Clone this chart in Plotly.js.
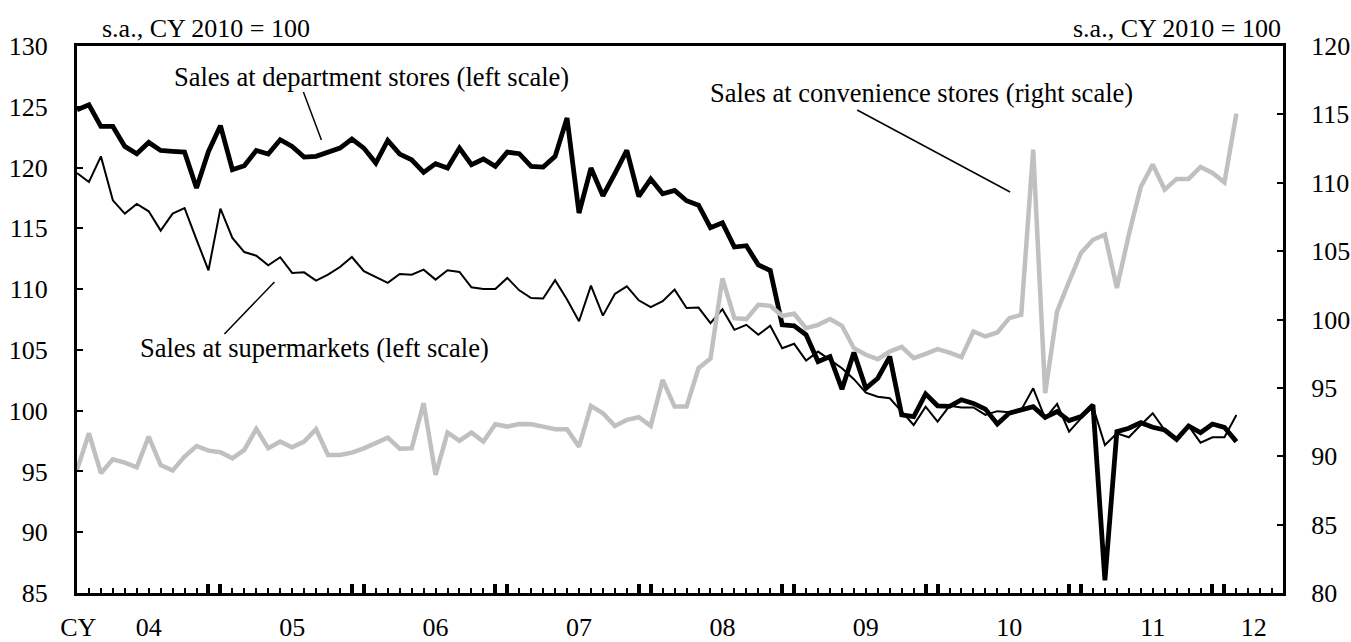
<!DOCTYPE html>
<html>
<head>
<meta charset="utf-8">
<script src="https://cdn.plot.ly/plotly-3.0.1.min.js"></script>
<style>
  html, body { margin: 0; padding: 0; background: #ffffff; }
  #chart { width: 1351px; height: 642px; }
</style>
</head>
<body>
<div id="chart"></div>
<script>
// Monthly data, Jan 2004 – Feb 2012 (s.a., CY 2010 = 100)
const firstYear = 2004;
const yearLabels = ['04', '05', '06', '07', '08', '09', '10', '11', '12'];
const axisPrefix = 'CY';

// Sales at department stores (left scale)
const deptStores = [
  124.75, 125.16, 123.38, 123.38, 121.74, 121.14, 122.07, 121.41, 121.33, 121.27, 118.32, 121.33,
  123.44, 119.82, 120.15, 121.41, 121.11, 122.29, 121.74, 120.86, 120.92, 121.27, 121.60, 122.34,
  121.60, 120.37, 122.23, 121.11, 120.64, 119.60, 120.32, 119.96, 121.60, 120.23, 120.70, 120.10,
  121.27, 121.14, 120.10, 120.04, 120.92, 124.07, 116.26, 119.96, 117.68, 119.50, 121.41, 117.63,
  119.05, 117.85, 118.12, 117.27, 116.90, 115.05, 115.45, 113.46, 113.57, 112.00, 111.53, 107.06,
  106.98, 106.24, 104.04, 104.45, 101.76, 104.78, 101.84, 102.67, 104.45, 99.65, 99.50, 101.38,
  100.40, 100.36, 100.90, 100.60, 100.13, 98.90, 99.80, 100.06, 100.33, 99.45, 99.92, 99.18,
  99.51, 100.47, 86.05, 98.27, 98.55, 99.01, 98.63, 98.41, 97.64, 98.74, 98.19, 98.90,
  98.63, 97.45
];

// Sales at supermarkets (left scale)
const supermarkets = [
  119.55, 118.81, 120.92, 117.30, 116.21, 117.00, 116.40, 114.81, 116.21, 116.67, 114.07, 111.55,
  116.62, 114.21, 113.05, 112.75, 111.96, 112.62, 111.33, 111.38, 110.70, 111.19, 111.82, 112.64,
  111.47, 111.00, 110.51, 111.25, 111.19, 111.60, 110.78, 111.55, 111.41, 110.15, 110.01, 110.01,
  110.92, 109.90, 109.27, 109.22, 110.73, 109.14, 107.36, 110.29, 107.82, 109.60, 110.23, 109.08,
  108.51, 109.00, 109.96, 108.45, 108.48, 107.20, 108.35, 106.65, 107.06, 106.24, 106.98, 105.14,
  105.50, 104.12, 104.86, 104.18, 103.49, 102.59, 101.48, 101.15, 101.02, 99.92, 98.82, 100.33,
  99.10, 100.40, 100.27, 100.27, 99.65, 99.96, 99.88, 100.06, 101.84, 99.37, 100.55, 98.27,
  99.37, 100.33, 97.17, 98.14, 97.81, 98.82, 99.79, 98.41, 97.59, 98.74, 97.37, 97.81,
  97.81, 99.65
];

// Sales at convenience stores (right scale)
const convenience = [
  89.00, 91.68, 88.76, 89.78, 89.53, 89.19, 91.44, 89.36, 88.95, 89.97, 90.75, 90.41,
  90.29, 89.85, 90.46, 92.00, 90.58, 91.07, 90.66, 91.07, 91.98, 90.10, 90.10, 90.26,
  90.58, 91.00, 91.36, 90.55, 90.58, 93.88, 88.63, 91.73, 91.14, 91.73, 91.07, 92.34,
  92.17, 92.36, 92.34, 92.17, 91.97, 91.97, 90.70, 93.68, 93.14, 92.22, 92.66, 92.85,
  92.22, 95.59, 93.63, 93.63, 96.44, 97.15, 103.00, 100.10, 100.03, 101.08, 101.00, 100.27,
  100.42, 99.37, 99.61, 100.03, 99.54, 97.90, 97.42, 97.10, 97.66, 98.00, 97.17, 97.49,
  97.83, 97.58, 97.25, 99.12, 98.76, 99.05, 100.10, 100.34, 112.42, 94.61, 100.59, 102.78,
  104.86, 105.83, 106.20, 102.30, 106.20, 109.69, 111.33, 109.50, 110.28, 110.28, 111.16, 110.72,
  110.03, 115.06
];

// month index (0 = Jan 2004)
const monthIdx = deptStores.map((_, i) => i);
const xMax = 100.9;

// year label positions: centre of each visible year span
const tickVals = [0.1];
const tickText = [axisPrefix];
yearLabels.forEach((lab, k) => {
  const start = 12 * k;
  const end = Math.min(start + 12, xMax);
  tickVals.push((start + end) / 2);
  tickText.push(lab);
});
// emphasised ticks at each Dec/Jan boundary
const yearTicks = [];
for (let k = 1; 12 * k <= xMax; k++) { yearTicks.push(12 * k - 1, 12 * k); }

const FONT = 'Liberation Serif, Times New Roman, serif';

const traces = [
  { x: monthIdx, y: convenience, type: 'scatter', mode: 'lines', yaxis: 'y2',
    line: { color: '#c0c0c0', width: 4.5 }, hoverinfo: 'skip', showlegend: false },
  { x: monthIdx, y: supermarkets, type: 'scatter', mode: 'lines',
    line: { color: '#000000', width: 2 }, hoverinfo: 'skip', showlegend: false },
  { x: monthIdx, y: deptStores, type: 'scatter', mode: 'lines',
    line: { color: '#000000', width: 4.8 }, hoverinfo: 'skip', showlegend: false },
  { x: [null], y: [null], xaxis: 'x2', yaxis: 'y', type: 'scatter', mode: 'lines',
    hoverinfo: 'skip', showlegend: false },
  { x: [null], y: [null], xaxis: 'x3', yaxis: 'y', type: 'scatter', mode: 'lines',
    hoverinfo: 'skip', showlegend: false }
];

const L = 76.5, R = 1283, T = 46, B = 593;
const W = R - L, H = B - T;
const px = v => (v - L) / W;
const py = v => (B - v) / H;

const annFont = { family: FONT, size: 26.5, color: '#000000' };
const layout = {
  width: 1351, height: 642,
  margin: { l: L, r: 1351 - R, t: T, b: 642 - B, pad: 0 },
  paper_bgcolor: '#ffffff', plot_bgcolor: '#ffffff',
  font: { family: FONT, size: 26, color: '#000000' },
  showlegend: false,
  xaxis: {
    range: [0, xMax], tickmode: 'array', tickvals: tickVals, ticktext: tickText,
    ticks: '', showgrid: false, zeroline: false,
    showline: true, linecolor: '#000000', linewidth: 3, mirror: true,
    tickfont: { family: FONT, size: 26, color: '#000000' },
    ticklabelstandoff: 9
  },
  xaxis2: {
    overlaying: 'x', anchor: 'y', side: 'bottom', range: [0, xMax],
    tickmode: 'linear', tick0: 0, dtick: 1, ticks: 'inside', ticklen: 5, tickwidth: 2,
    tickcolor: '#000000', showticklabels: false, showgrid: false, zeroline: false, showline: false
  },
  xaxis3: {
    overlaying: 'x', anchor: 'y', side: 'bottom', range: [0, xMax],
    tickmode: 'array', tickvals: yearTicks, ticks: 'inside', ticklen: 9, tickwidth: 4,
    tickcolor: '#000000', showticklabels: false, showgrid: false, zeroline: false, showline: false
  },
  yaxis: {
    range: [85, 130], tickmode: 'linear', tick0: 85, dtick: 5,
    ticks: 'inside', ticklen: 6, tickwidth: 2, tickcolor: '#000000',
    showgrid: false, zeroline: false,
    showline: true, linecolor: '#000000', linewidth: 3,
    tickfont: { family: FONT, size: 26, color: '#000000' },
    ticklabelstandoff: 21
  },
  yaxis2: {
    overlaying: 'y', side: 'right', range: [80, 120], tickmode: 'linear', tick0: 80, dtick: 5,
    ticks: 'inside', ticklen: 6, tickwidth: 2, tickcolor: '#000000',
    showgrid: false, zeroline: false,
    showline: true, linecolor: '#000000', linewidth: 3,
    tickfont: { family: FONT, size: 26, color: '#000000' },
    ticklabelstandoff: 20
  },
  annotations: [
    { xref: 'paper', yref: 'paper', x: px(100), y: py(29), xanchor: 'left', yanchor: 'middle',
      text: 's.a., CY 2010 = 100', showarrow: false, font: { family: FONT, size: 26, color: '#000' } },
    { xref: 'paper', yref: 'paper', x: px(R), y: py(29), xanchor: 'right', yanchor: 'middle',
      text: 's.a., CY 2010 = 100', showarrow: false, font: { family: FONT, size: 26, color: '#000' } },
    { xref: 'paper', yref: 'paper', x: px(371.5), y: py(77), xanchor: 'center', yanchor: 'middle',
      text: 'Sales at department stores (left scale)', showarrow: false, font: annFont },
    { xref: 'paper', yref: 'paper', x: px(314.5), y: py(348), xanchor: 'center', yanchor: 'middle',
      text: 'Sales at supermarkets (left scale)', showarrow: false, font: annFont },
    { xref: 'paper', yref: 'paper', x: px(921), y: py(93), xanchor: 'center', yanchor: 'middle',
      text: 'Sales at convenience stores (right scale)', showarrow: false, font: annFont }
  ],
  shapes: [
    { type: 'line', xref: 'paper', yref: 'paper', x0: px(303), y0: py(92), x1: px(321), y1: py(140),
      line: { color: '#000000', width: 1.5 } },
    { type: 'line', xref: 'paper', yref: 'paper', x0: px(224), y0: py(334), x1: px(274), y1: py(282),
      line: { color: '#000000', width: 1.5 } },
    { type: 'line', xref: 'paper', yref: 'paper', x0: px(857), y0: py(110), x1: px(1010), y1: py(192),
      line: { color: '#000000', width: 1.5 } }
  ]
};

Plotly.newPlot('chart', traces, layout, { staticPlot: true, displayModeBar: false });
</script>
</body>
</html>
